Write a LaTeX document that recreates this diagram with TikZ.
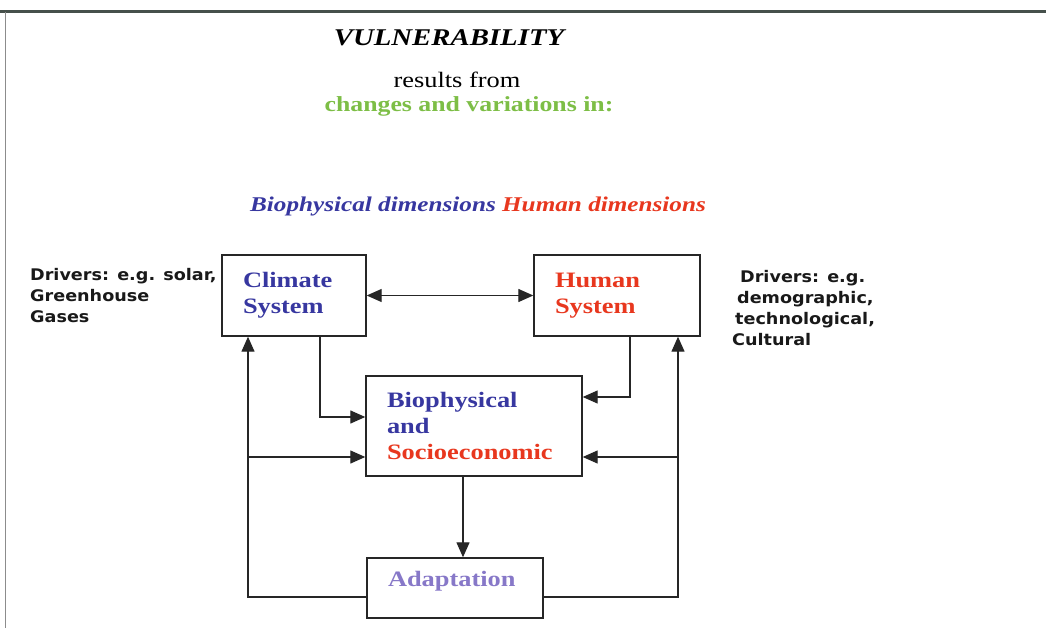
\documentclass[tikz,border=0pt]{standalone}
\usepackage{fontspec}
\usepackage{tikz}
\usepackage{xcolor}
\usetikzlibrary{arrows.meta,positioning}
\setmainfont{Liberation Serif}[FakeStretch=1.2]
\newfontfamily\driverfont{DejaVu Sans}[FakeStretch=1.1]
\definecolor{bioblue}{RGB}{55,55,160}
\definecolor{humred}{RGB}{232,55,30}
\definecolor{chgreen}{RGB}{125,190,70}
\definecolor{adapurple}{RGB}{135,120,200}
\definecolor{framegray}{RGB}{70,80,75}
\newcommand{\boxtext}{\fontsize{22}{26}\selectfont\bfseries}
\newcommand{\drvtext}{\driverfont\bfseries\fontsize{16}{21}\selectfont}

\begin{document}
\begin{tikzpicture}[x=1pt,y=-1pt,>={Triangle[length=15pt,width=13pt]},
        sysbox/.style={rectangle,draw=black!85,line width=1.4pt,inner xsep=21pt,
          align=left,font=\boxtext},
        link/.style={draw=black!85,line width=1.3pt},
        arr/.style={link,->},
        drv/.style={inner sep=0pt,align=left,font=\drvtext,text=black!90}]
        \useasboundingbox[fill=white] (0,0) rectangle (1046,628);
        \draw[framegray,line width=3pt] (0,12) -- (1046,12);
        \draw[black!45,line width=1pt] (5,12) -- (5,628);

        \node[font=\fontsize{24}{28}\selectfont\bfseries\itshape] (title) at (449,38) {VULNERABILITY};
        \node[font=\fontsize{22}{26}\selectfont] (from) at (457,80) {results from};
        \node[font=\fontsize{21.5}{26}\selectfont\bfseries,text=chgreen] (changes) at (469,106) {changes and variations in:};
        \node[font=\fontsize{21}{25}\selectfont\bfseries\itshape] (dims) at (478,206)
          {\textcolor{bioblue}{Biophysical dimensions} \textcolor{humred}{Human dimensions}};

        \node[sysbox,text=bioblue,text width=102pt,minimum height=81pt] (climate) at (294,295.5) {Climate\\System};
        \node[sysbox,text=humred,text width=124pt,minimum height=81pt] (human) at (617,295.5) {Human\\System};
        \node[sysbox,text width=174pt,minimum height=100pt] (impact) at (474,426)
          {\textcolor{bioblue}{Biophysical}\\\textcolor{bioblue}{and}\\\textcolor{humred}{Socioeconomic}};
        \node[sysbox,text=adapurple,text width=134pt,minimum height=60pt,
          text height=15pt,text depth=19pt] (adapt) at (455,588) {Adaptation};

        \node[drv,anchor=north west] (drvclim) at (30,268.5) {Drivers: e.g. solar,\\Greenhouse\\Gases};
        \node[drv,anchor=north west] (drvhum) at (732,270)
          {\hspace*{8pt}Drivers: e.g.\\\hspace*{5pt}demographic,\\\hspace*{3pt}technological,\\Cultural};

        \coordinate (lbus) at (248,597);
        \coordinate (rbus) at (678,597);
        \coordinate (lin) at ([yshift=-31pt]impact.west);
        \coordinate (rin) at ([yshift=-31pt]impact.east);
        \coordinate (idown) at ([xshift=-11pt]impact.south);

        \draw[link,<->] (climate) -- (human);
        \draw[arr] ([xshift=26pt]climate.south) |- ([yshift=9pt]impact.west);
        \draw[arr] ([xshift=13pt]human.south) |- ([yshift=29pt]impact.east);
        \draw[arr] (idown) -- (idown |- adapt.north);
        \draw[arr] (adapt.west |- lbus) -| (climate.south -| lbus);
        \draw[arr] (adapt.east |- rbus) -| (human.south -| rbus);
        \draw[arr] (lbus |- lin) -- (lin);
        \draw[arr] (rbus |- rin) -- (rin);
      \end{tikzpicture}
\end{document}
